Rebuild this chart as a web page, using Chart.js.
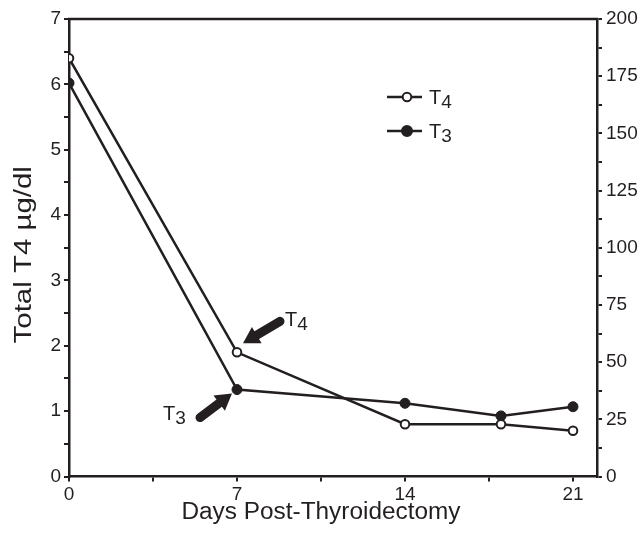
<!DOCTYPE html>
<html><head><meta charset="utf-8">
<script src="https://cdn.jsdelivr.net/npm/chart.js@4"></script>
<style>html,body{margin:0;padding:0;background:#fff}#wrap{width:642px;height:535px}</style>
</head><body><div id="wrap"><canvas id="c" width="642" height="535"></canvas></div>
<script>
const days = [0, 7, 14, 18, 21];
const t4Values = [6.4, 1.9, 0.8, 0.8, 0.7];
const t3Values = [172, 38, 32, 26.5, 30.5];
const seriesNames = ['T', 'T'];
const seriesSubs = ['4', '3'];
const leftTicks = [0, 1, 2, 3, 4, 5, 6, 7];
const rightTicks = [0, 25, 50, 75, 100, 125, 150, 175, 200];
const xTicks = [0, 7, 14, 21];
const xTitle = 'Days Post-Thyroidectomy';
const yTitle = 'Total T4 \u00b5g/dl';

const INK = '#231f20';
const FONT = '"Liberation Sans", Arial, sans-serif';

function subText(ctx, x, y, main, sub, size, subSize, drop) {
  ctx.font = size + 'px ' + FONT;
  ctx.textAlign = 'left'; ctx.textBaseline = 'alphabetic';
  ctx.fillText(main, x, y);
  const w = ctx.measureText(main).width;
  ctx.font = subSize + 'px ' + FONT;
  ctx.fillText(sub, x + w, y + drop);
}
function arrow(ctx, x1, y1, x2, y2, shaft, headLen, headW) {
  const a = Math.atan2(y2 - y1, x2 - x1);
  const len = Math.hypot(x2 - x1, y2 - y1);
  ctx.save();
  ctx.translate(x1, y1); ctx.rotate(a);
  ctx.fillStyle = INK;
  ctx.beginPath();
  ctx.arc(0, 0, shaft / 2, Math.PI / 2, Math.PI * 1.5);
  ctx.lineTo(len - headLen, -shaft / 2);
  ctx.lineTo(len - headLen, -headW / 2);
  ctx.lineTo(len, 0);
  ctx.lineTo(len - headLen, headW / 2);
  ctx.lineTo(len - headLen, shaft / 2);
  ctx.closePath();
  ctx.fill();
  ctx.restore();
}

const deco = {
  id: 'deco',
  afterDraw(chart) {
    const ctx = chart.ctx, a = chart.chartArea;
    const xs = chart.scales.x, yl = chart.scales.y, yr = chart.scales.y2;
    ctx.save();
    ctx.strokeStyle = INK; ctx.lineWidth = 2.5;
    ctx.beginPath(); ctx.moveTo(a.left - 1, a.top); ctx.lineTo(a.right + 1, a.top); ctx.stroke();
    ctx.fillStyle = INK;
    // x title
    ctx.font = '23px ' + FONT; ctx.textAlign = 'center'; ctx.textBaseline = 'alphabetic';
    const xmid = (xs.getPixelForValue(xTicks[0]) + xs.getPixelForValue(xTicks[xTicks.length - 1])) / 2;
    ctx.save(); ctx.translate(xmid, 519); ctx.scale(1.06, 1);
    ctx.fillText(xTitle, 0, 0); ctx.restore();
    // y title
    ctx.font = '23px ' + FONT;
    ctx.save(); ctx.translate(31, (a.top + a.bottom) / 2 + 7); ctx.rotate(-Math.PI / 2); ctx.scale(1.28, 1);
    ctx.fillText(yTitle, 0, 0); ctx.restore();
    // legend
    const lx = 387, ly = [97, 131];
    for (let i = 0; i < 2; i++) {
      ctx.lineWidth = 2.5; ctx.strokeStyle = INK;
      ctx.beginPath(); ctx.moveTo(lx, ly[i]); ctx.lineTo(lx + 35, ly[i]); ctx.stroke();
      ctx.beginPath(); ctx.arc(lx + 20, ly[i], i === 0 ? 4.3 : 5, 0, Math.PI * 2);
      ctx.fillStyle = i === 0 ? '#fff' : INK; ctx.fill();
      ctx.lineWidth = 2; ctx.stroke();
      ctx.fillStyle = INK;
      subText(ctx, lx + 42, ly[i] + 7, seriesNames[i], seriesSubs[i], 20, 19, 4);
    }
    // arrows
    const p4x = xs.getPixelForValue(days[1]), p4y = yl.getPixelForValue(t4Values[1]);
    const p3x = xs.getPixelForValue(days[1]), p3y = yr.getPixelForValue(t3Values[1]);
    arrow(ctx, p4x + 43, p4y - 31, p4x + 6, p4y - 9, 9, 16, 19);
    arrow(ctx, p3x - 37, p3y + 28, p3x - 5, p3y + 4, 9, 16, 19);
    subText(ctx, p4x + 48, p4y - 26, seriesNames[0], seriesSubs[0], 20, 19, 4);
    subText(ctx, p3x - 74, p3y + 30, seriesNames[1], seriesSubs[1], 20, 19, 4);
    ctx.restore();
  }
};

new Chart(document.getElementById('c'), {
  type: 'line',
  data: {
    datasets: [
      { label: 'T4', data: days.map((d, i) => ({ x: d, y: t4Values[i] })), yAxisID: 'y',
        borderColor: INK, borderWidth: 2.5, pointRadius: 4.3, pointBackgroundColor: '#fff',
        pointBorderColor: INK, pointBorderWidth: 2, fill: false, tension: 0 },
      { label: 'T3', data: days.map((d, i) => ({ x: d, y: t3Values[i] })), yAxisID: 'y2',
        borderColor: INK, borderWidth: 2.5, pointRadius: 5, pointBackgroundColor: INK,
        pointBorderColor: INK, pointBorderWidth: 1, fill: false, tension: 0 }
    ]
  },
  options: {
    responsive: false, animation: false, devicePixelRatio: 1,
    layout: { padding: { top: 19, left: 0, right: 0, bottom: 0 } },
    plugins: { legend: { display: false }, tooltip: { enabled: false } },
    scales: {
      x: {
        type: 'linear', min: 0, max: 22, position: 'bottom',
        ticks: { stepSize: 3.5, includeBounds: false, autoSkip: false, maxRotation: 0,
          callback: v => xTicks.includes(v) ? String(v) : '', color: INK, padding: 2,
          font: { family: FONT, size: 19 } },
        grid: { drawOnChartArea: false, color: INK, lineWidth: 2, tickLength: 5 },
        border: { color: INK, width: 2.5 },
        afterFit: s => { s.height = 58.5; }
      },
      y: {
        type: 'linear', min: 0, max: 7, position: 'left',
        ticks: { stepSize: 0.5, includeBounds: false, autoSkip: false,
          callback: v => leftTicks.includes(v) ? String(v) : '', color: INK, padding: 3,
          font: { family: FONT, size: 19 } },
        grid: { drawOnChartArea: false, color: INK, lineWidth: 2, tickLength: 5 },
        border: { color: INK, width: 2.5 },
        afterFit: s => { s.width = 69; }
      },
      y2: {
        type: 'linear', min: 0, max: 200, position: 'right',
        ticks: { stepSize: 12.5, includeBounds: false, autoSkip: false,
          callback: v => rightTicks.includes(v) ? String(v) : '', color: INK, padding: 4,
          font: { family: FONT, size: 19 } },
        grid: { drawOnChartArea: false, color: INK, lineWidth: 2, tickLength: 5 },
        border: { color: INK, width: 2.5 },
        afterFit: s => { s.width = 45; }
      }
    }
  },
  plugins: [deco]
});
</script>
</body></html>
